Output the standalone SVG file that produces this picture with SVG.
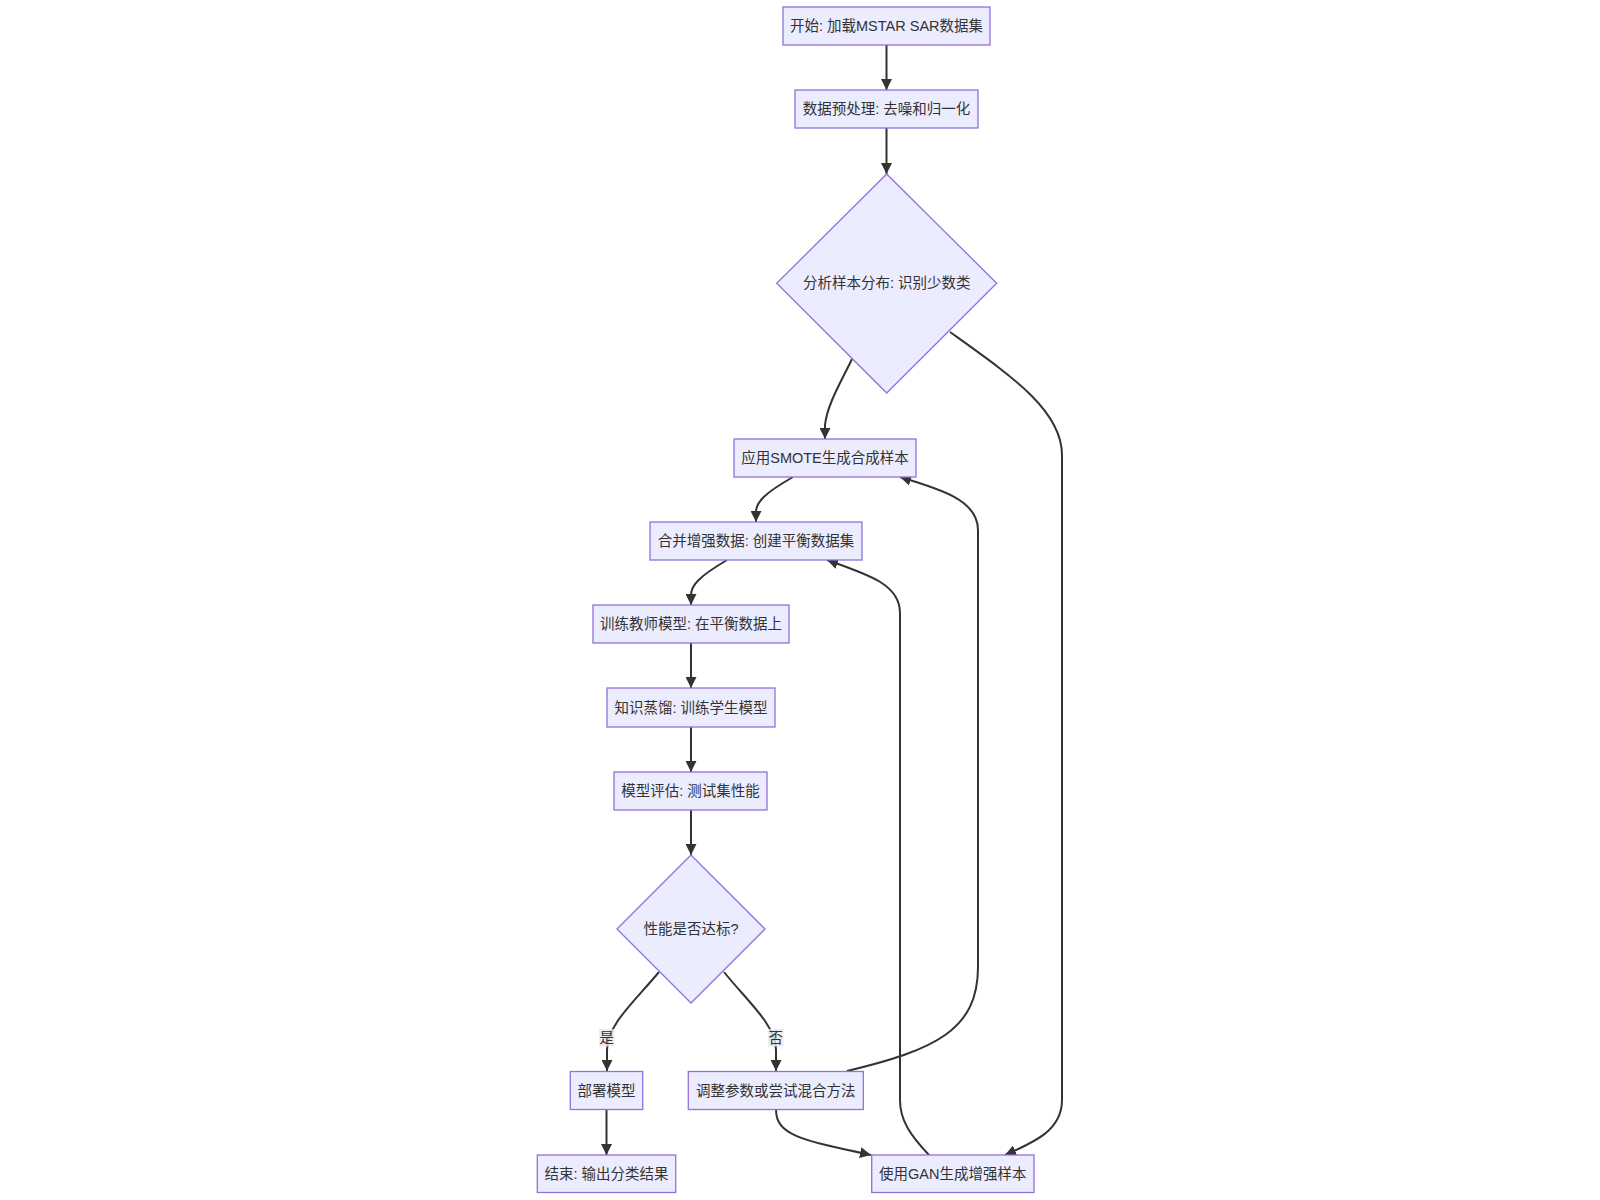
<svg xmlns="http://www.w3.org/2000/svg" width="1600" height="1200" viewBox="0 0 1600 1200">
<defs>
<style>
.node rect, .node polygon { fill: #ECECFF; stroke: #9370DB; stroke-width: 1.3; }
.node text { font-family: "Liberation Sans", "Noto Sans CJK SC", sans-serif; font-size: 14.5px; fill: #333; text-anchor: middle; dominant-baseline: central; }
.edge { fill: none; stroke: #333; stroke-width: 2; marker-end: url(#arrow); }
.elabel rect { fill: #e8e8e8; opacity: 0.8; }
.elabel text { font-family: "Liberation Sans", "Noto Sans CJK SC", sans-serif; font-size: 14.5px; fill: #333; text-anchor: middle; dominant-baseline: central; }
</style>
<marker id="arrow" viewBox="0 0 10 10" refX="10" refY="5" markerWidth="11" markerHeight="11" markerUnits="userSpaceOnUse" orient="auto">
<path d="M0,0 L10,5 L0,10 z" fill="#333"/>
</marker>
</defs>
<rect width="1600" height="1200" fill="#fff"/>
<g id="connectors">
<path class="edge" d="M886.5,45 L886.5,90"/>
<path class="edge" d="M886.5,128 L886.5,174"/>
<path class="edge" d="M852,359 C841,382 827,405 825,425 L825,439"/>
<path class="edge" d="M950,332 C1010,375 1062,410 1062,455 L1062,1100 C1062,1130 1035,1142 1005,1155"/>
<path class="edge" d="M793,477 C765,493 756,502 756,512 L756,522"/>
<path class="edge" d="M727,560 C700,576 691,585 691,595 L691,605"/>
<path class="edge" d="M691,643 L691,688"/>
<path class="edge" d="M691,727 L691,772"/>
<path class="edge" d="M691,810 L691,855"/>
<path class="edge" d="M659,972 C634,1002 607,1025 607,1050 L607,1071"/>
<path class="edge" d="M724,972 C748,1002 776,1025 776,1050 L776,1071"/>
<path class="edge" d="M606.5,1109.5 L606.5,1155"/>
<path class="edge" d="M847,1071 C935,1050 978,1030 978,967 L978,530 C978,500 940,489 900,477"/>
<path class="edge" d="M929,1155 C910,1135 900,1120 900,1100 L900,613 C900,585 870,575 827,560"/>
<path class="edge" d="M776,1109.5 C776,1135 800,1140 871,1155"/>
<g class="elabel"><rect x="599" y="1029" width="15.5" height="17.5"/><text x="606.7" y="1038">是</text></g>
<g class="elabel"><rect x="768" y="1029" width="15.5" height="17.5"/><text x="775.7" y="1038">否</text></g>
</g>
<g id="n1" class="node"><rect x="783" y="7" width="207" height="38"/><text x="886.5" y="26">开始: 加载MSTAR SAR数据集</text></g>
<g id="n2" class="node"><rect x="795" y="90" width="183" height="38"/><text x="886.5" y="109">数据预处理: 去噪和归一化</text></g>
<g id="n3" class="node"><polygon points="886.7,174 996.7,283.3 886.7,393 776.7,283.3"/><text x="886.7" y="283.3">分析样本分布: 识别少数类</text></g>
<g id="n4" class="node"><rect x="734" y="439" width="182" height="38"/><text x="825" y="458">应用SMOTE生成合成样本</text></g>
<g id="n5" class="node"><rect x="650" y="522" width="212" height="38"/><text x="756" y="541">合并增强数据: 创建平衡数据集</text></g>
<g id="n6" class="node"><rect x="593" y="605" width="196" height="38"/><text x="691" y="624">训练教师模型: 在平衡数据上</text></g>
<g id="n7" class="node"><rect x="607" y="688" width="168" height="39"/><text x="691" y="707.5">知识蒸馏: 训练学生模型</text></g>
<g id="n8" class="node"><rect x="614" y="772" width="153" height="38"/><text x="690.5" y="791">模型评估: 测试集性能</text></g>
<g id="n9" class="node"><polygon points="691,855 765,929 691,1003 617,929"/><text x="691" y="929">性能是否达标?</text></g>
<g id="n10" class="node"><rect x="570.3" y="1071.5" width="72.4" height="38"/><text x="606.5" y="1090.5">部署模型</text></g>
<g id="n11" class="node"><rect x="688.3" y="1071.5" width="175" height="38"/><text x="775.8" y="1090.5">调整参数或尝试混合方法</text></g>
<g id="n12" class="node"><rect x="537.3" y="1155" width="138.4" height="37.5"/><text x="606.5" y="1174">结束: 输出分类结果</text></g>
<g id="n13" class="node"><rect x="871.7" y="1155" width="162.3" height="37.5"/><text x="952.8" y="1174">使用GAN生成增强样本</text></g>
</svg>
